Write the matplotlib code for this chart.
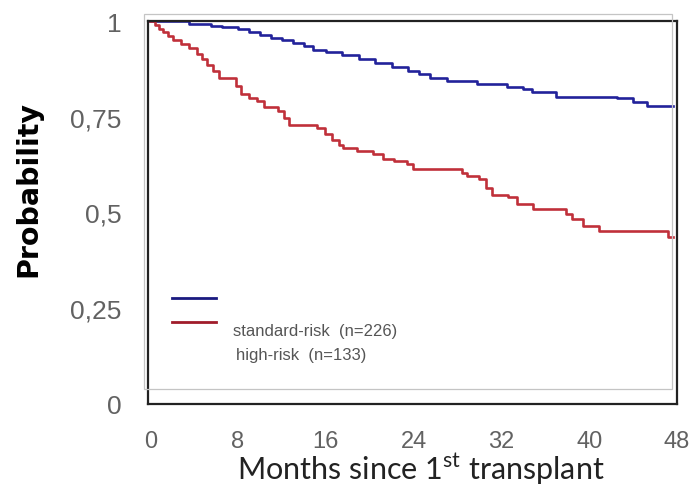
import matplotlib
matplotlib.use("Agg")
import matplotlib.pyplot as plt
from matplotlib.patches import Rectangle

# Kaplan-Meier style step data
std_months = [0, 3.5, 5.5, 6.5, 8, 9, 10, 11, 12, 13, 14, 14.8, 16, 17.5, 19, 20.5,
              22, 23.5, 24.5, 25.5, 27, 29.8, 32.5, 34, 34.8, 37, 42.5, 44, 45.3, 47.6]
std_prob = [1.0, 0.993, 0.988, 0.984, 0.978, 0.972, 0.963, 0.956, 0.95, 0.942, 0.935,
            0.924, 0.918, 0.91, 0.9, 0.89, 0.88, 0.87, 0.862, 0.85, 0.843, 0.836,
            0.828, 0.822, 0.815, 0.802, 0.798, 0.789, 0.779, 0.779]

high_months = [0, 0.4, 0.8, 1.2, 1.6, 2.1, 2.8, 3.5, 4.3, 4.7, 5.2, 5.7, 6.3, 7.8, 8.3,
               9.0, 9.7, 10.4, 11.6, 12.2, 12.6, 15.2, 15.9, 16.6, 17.2, 17.6, 18.8,
               20.3, 21.2, 22.2, 23.4, 23.9, 28.4, 28.9, 30.0, 30.6, 31.1, 32.6, 33.4,
               34.9, 37.9, 38.4, 39.4, 40.9, 47.2, 47.6]
high_prob = [1.0, 0.99, 0.98, 0.972, 0.962, 0.95, 0.94, 0.93, 0.915, 0.9, 0.885, 0.87,
             0.85, 0.83, 0.81, 0.8, 0.79, 0.776, 0.766, 0.748, 0.728, 0.72, 0.705, 0.69,
             0.675, 0.668, 0.661, 0.652, 0.64, 0.634, 0.627, 0.614, 0.604, 0.595, 0.587,
             0.565, 0.545, 0.54, 0.522, 0.509, 0.497, 0.483, 0.465, 0.452, 0.436, 0.436]

x_ticks = [0, 8, 16, 24, 32, 40, 48]
y_ticks = [0, 0.25, 0.5, 0.75, 1]
y_labels = ['0', '0,25', '0,5', '0,75', '1']
labels = ['standard-risk  (n=226)', 'high-risk  (n=133)']

plt.rcParams['font.family'] = ['Liberation Sans', 'DejaVu Sans']
plt.rcParams['mathtext.fontset'] = 'custom'
plt.rcParams['mathtext.rm'] = 'Lato'

fig = plt.figure(figsize=(6.93, 4.89), dpi=100)
ax = fig.add_axes([0.2136, 0.1718, 0.7634, 0.7832])

ax.plot(std_months, std_prob, drawstyle='steps-post', color='#22229a', lw=1.9)
ax.plot(high_months, high_prob, drawstyle='steps-post', color='#c0303a', lw=1.9)

ax.set_xlim(-0.2, 48)
ax.set_ylim(0, 1)
ax.set_xticks(x_ticks)
ax.set_yticks(y_ticks)
ax.set_yticklabels(y_labels)
ax.tick_params(axis='both', length=0, colors='#626262')
ax.tick_params(axis='y', labelsize=19, pad=19)
ax.tick_params(axis='x', labelsize=17, pad=19)

for sp in ax.spines.values():
    sp.set_color('#222222')
    sp.set_linewidth(1.6)

ax.set_ylabel('Probability', fontsize=20.5, fontweight='bold', family='DejaVu Sans',
              color='black')
ax.yaxis.set_label_coords(-0.200, 0.565)
ax.set_xlabel('Months since 1$^{\\mathrm{st}}$ transplant', fontsize=22,
              family='Lato', color='#222222', va='center')
ax.xaxis.set_label_coords(0.515, -0.168)

# hand-made legend: lines and labels are offset like in the original
ax.plot([0.0454, 0.1285], [0.2768, 0.2768], transform=ax.transAxes,
        color='#1a1a80', lw=2)
ax.plot([0.0454, 0.1285], [0.2141, 0.2141], transform=ax.transAxes,
        color='#a01c2a', lw=2)
ax.text(0.1607, 0.1906, labels[0], transform=ax.transAxes, fontsize=12,
        color='#555555', va='center')
ax.text(0.1664, 0.128, labels[1], transform=ax.transAxes, fontsize=12,
        color='#555555', va='center')

# faint frame of the pasted picture
fig.add_artist(Rectangle((0.2078, 0.2025), 0.7619, 0.767, transform=fig.transFigure,
                         fill=False, edgecolor='#c4c4c4', lw=0.9, zorder=5))

fig.savefig('out.png', dpi=100)
